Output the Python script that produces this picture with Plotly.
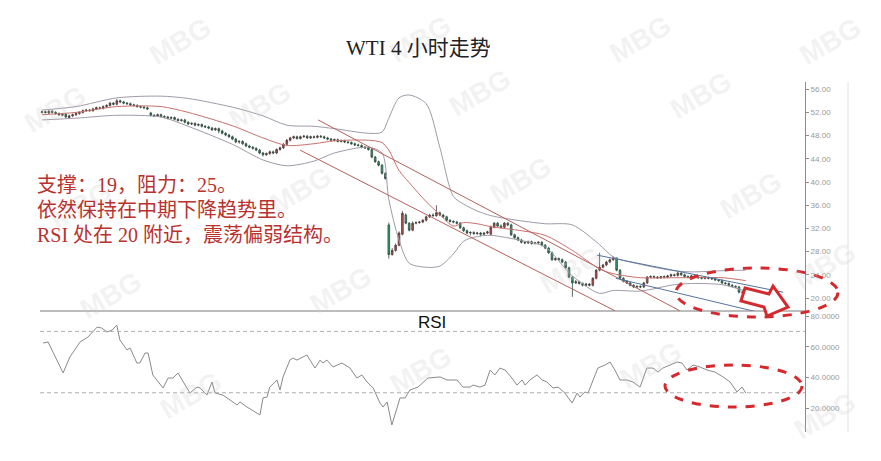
import plotly.graph_objects as go

# ---------------- price candles (4h bars, index 0..207) ----------------
open_px = [
    52.0, 52.1, 51.9, 52.2, 52.0, 51.8, 51.5, 51.7, 51.1, 51.4,
    51.6, 51.8, 52.0, 52.3, 52.4, 52.3, 52.6, 52.8, 52.7, 53.0,
    53.2, 53.6, 53.4, 54.0, 53.8, 53.6, 53.5, 53.3, 53.2, 53.0,
    52.9, 52.8, 51.9, 51.5, 51.4, 51.6, 51.3, 51.2, 51.0, 51.1,
    50.8, 50.6, 50.7, 50.3, 50.0, 50.1, 49.8, 49.9, 49.6, 49.5,
    49.3, 49.0, 49.2, 48.8, 48.4, 48.1, 47.8, 47.4, 46.9, 47.0,
    46.6, 46.2, 46.0, 45.8, 45.5, 45.0, 44.7, 44.9, 45.2, 45.0,
    45.6, 45.9, 46.5, 47.2, 47.6, 47.8, 47.5, 47.8, 47.9, 47.6,
    47.8, 47.7, 47.9, 47.8, 47.6, 47.4, 47.2, 47.3, 47.0, 47.1,
    46.9, 46.8, 46.6, 46.4, 46.3, 46.0, 45.9, 45.6, 44.3, 43.5,
    42.9, 41.5,
    32.6, 27.5, 28.2, 29.1, 31.0, 34.3, 32.9, 31.7, 32.9, 33.0,
    33.1, 33.4, 34.0, 34.3, 34.2, 34.7, 34.3, 34.0, 33.4, 33.2,
    33.1, 32.9, 32.1, 31.6, 31.2, 31.3, 31.1, 31.2, 31.0, 31.2,
    31.0, 32.2, 32.9, 32.4, 32.2, 32.9, 32.6, 30.9, 30.4, 30.0,
    29.6, 29.5, 29.7, 29.4, 29.5, 29.6, 29.1, 28.6, 27.8, 26.6,
    26.8, 26.6, 26.2, 25.2, 23.6, 22.6, 22.8, 22.5, 22.2, 22.4,
    22.2, 23.4, 24.8, 25.3, 25.7, 26.2, 26.6, 26.9, 24.8, 23.4,
    22.9, 22.6, 22.2, 21.9, 22.0, 21.9, 22.6, 23.6, 23.7, 23.6,
    23.5, 23.7, 23.6, 23.8, 24.0, 23.9, 24.3, 24.0, 23.7, 23.6,
    23.8, 23.6, 23.5, 23.4, 23.5, 23.4, 23.3, 23.1, 23.0, 22.6,
    22.5, 22.2, 22.0, 21.9, 21.0, 21.0,
]
high_px = [
    52.3, 52.3, 52.4, 52.4, 52.2, 52.0, 51.9, 51.9, 51.6, 51.8,
    52.0, 52.2, 52.5, 52.6, 52.6, 52.8, 53.0, 53.0, 53.2, 53.4,
    53.8, 53.8, 54.3, 54.2, 54.0, 53.8, 53.7, 53.5, 53.4, 53.2,
    53.1, 53.0, 52.1, 51.7, 51.8, 51.8, 51.5, 51.4, 51.3, 51.3,
    51.0, 50.9, 50.9, 50.5, 50.3, 50.3, 50.1, 50.1, 49.8, 49.7,
    49.5, 49.4, 49.4, 49.0, 48.6, 48.3, 48.0, 47.6, 47.2, 47.2,
    46.8, 46.4, 46.2, 46.0, 45.7, 45.2, 45.1, 45.4, 45.4, 45.8,
    46.1, 46.7, 47.4, 47.8, 48.0, 48.0, 48.0, 48.1, 48.1, 48.0,
    48.0, 48.1, 48.1, 48.0, 47.8, 47.6, 47.5, 47.5, 47.3, 47.3,
    47.1, 47.0, 46.8, 46.6, 46.5, 46.2, 46.1, 45.8, 44.5, 43.7,
    43.1, 41.7,
    33.0, 28.6, 29.4, 31.5, 35.0, 34.6, 33.1, 33.2, 33.2, 33.3,
    33.6, 34.2, 34.5, 34.6, 36.0, 34.9, 34.5, 34.2, 33.6, 33.4,
    33.3, 33.1, 32.3, 31.8, 31.5, 31.5, 31.4, 31.4, 31.3, 31.6,
    32.5, 33.1, 33.1, 32.7, 33.1, 33.1, 32.8, 31.1, 30.6, 30.2,
    29.8, 29.9, 29.9, 29.7, 29.8, 29.8, 29.3, 28.8, 28.0, 27.0,
    27.0, 26.8, 26.4, 25.4, 23.8, 23.1, 23.0, 22.7, 22.6, 22.6,
    23.6, 25.0, 27.8, 25.9, 26.4, 26.8, 27.2, 27.0, 25.0, 23.6,
    23.1, 22.8, 22.4, 22.2, 22.2, 22.8, 23.8, 23.9, 23.9, 23.8,
    23.8, 23.9, 24.0, 24.2, 24.2, 24.5, 24.4, 24.2, 23.9, 24.0,
    24.0, 23.8, 23.7, 23.7, 23.7, 23.6, 23.5, 23.3, 23.2, 22.8,
    22.7, 22.4, 22.2, 22.1, 21.3, 21.6,
]
low_px = [
    51.8, 51.8, 51.7, 51.8, 51.6, 51.4, 51.3, 51.0, 50.9, 51.2,
    51.4, 51.6, 51.8, 52.1, 52.1, 52.1, 52.4, 52.5, 52.5, 52.8,
    53.0, 53.2, 53.2, 53.6, 53.4, 53.3, 53.1, 53.0, 52.8, 52.7,
    52.6, 52.4, 51.3, 51.2, 51.2, 51.1, 51.0, 50.8, 50.8, 50.6,
    50.4, 50.4, 50.1, 49.8, 49.8, 49.6, 49.6, 49.4, 49.3, 49.1,
    48.8, 48.8, 48.4, 48.2, 47.9, 47.6, 47.2, 46.7, 46.6, 46.4,
    46.0, 45.8, 45.6, 45.3, 44.8, 44.4, 44.5, 44.7, 44.8, 44.8,
    45.4, 45.7, 46.3, 47.0, 47.4, 47.3, 47.3, 47.6, 47.4, 47.4,
    47.5, 47.5, 47.6, 47.4, 47.2, 47.0, 47.0, 46.8, 46.8, 46.7,
    46.6, 46.4, 46.2, 46.1, 45.8, 45.7, 45.4, 44.1, 43.3, 42.7,
    41.3, 40.4,
    26.8, 27.3, 28.0, 28.9, 30.8, 32.7, 31.5, 31.5, 32.7, 32.8,
    32.9, 33.2, 33.8, 34.0, 34.0, 34.1, 33.8, 33.2, 33.0, 32.9,
    32.7, 31.9, 31.4, 31.0, 30.8, 30.9, 30.9, 30.6, 30.8, 31.0,
    30.8, 32.0, 32.2, 32.0, 32.0, 32.4, 30.7, 30.2, 29.8, 29.4,
    29.3, 29.3, 29.2, 29.2, 29.3, 28.9, 28.4, 27.6, 26.4, 26.4,
    26.4, 26.0, 25.0, 23.4, 20.2, 22.4, 22.3, 22.0, 22.0, 22.0,
    22.0, 23.2, 24.6, 25.1, 25.5, 26.0, 26.4, 24.6, 23.2, 22.7,
    22.4, 22.0, 21.7, 21.7, 21.7, 21.7, 22.4, 23.4, 23.4, 23.3,
    23.3, 23.4, 23.4, 23.6, 23.7, 23.7, 23.8, 23.5, 23.4, 23.4,
    23.4, 23.3, 23.2, 23.2, 23.2, 23.1, 23.0, 22.8, 22.4, 22.3,
    22.0, 21.8, 21.7, 20.8, 20.8, 20.9,
]
close_px = [
    52.1, 52.0, 52.2, 52.0, 51.8, 51.6, 51.7, 51.2, 51.4, 51.6,
    51.8, 52.0, 52.3, 52.4, 52.3, 52.6, 52.8, 52.7, 53.0, 53.2,
    53.6, 53.4, 54.0, 53.8, 53.6, 53.5, 53.3, 53.2, 53.0, 52.9,
    52.8, 52.6, 51.5, 51.4, 51.6, 51.3, 51.2, 51.0, 51.1, 50.8,
    50.6, 50.7, 50.3, 50.0, 50.1, 49.8, 49.9, 49.6, 49.5, 49.3,
    49.0, 49.2, 48.8, 48.4, 48.1, 47.8, 47.4, 46.9, 47.0, 46.6,
    46.2, 46.0, 45.8, 45.5, 45.0, 44.7, 44.9, 45.2, 45.0, 45.6,
    45.9, 46.5, 47.2, 47.6, 47.8, 47.5, 47.8, 47.9, 47.6, 47.8,
    47.7, 47.9, 47.8, 47.6, 47.4, 47.2, 47.3, 47.0, 47.1, 46.9,
    46.8, 46.6, 46.4, 46.3, 46.0, 45.9, 45.6, 44.3, 43.5, 42.9,
    41.5, 40.6,
    27.5, 28.2, 29.1, 31.2, 34.6, 32.9, 31.7, 32.9, 33.0, 33.1,
    33.4, 34.0, 34.3, 34.2, 34.7, 34.3, 34.0, 33.4, 33.2, 33.1,
    32.9, 32.1, 31.6, 31.2, 31.3, 31.1, 31.2, 31.0, 31.2, 31.4,
    32.2, 32.9, 32.4, 32.2, 32.9, 32.6, 30.9, 30.4, 30.0, 29.6,
    29.5, 29.7, 29.4, 29.5, 29.6, 29.1, 28.6, 27.8, 26.6, 26.8,
    26.6, 26.2, 25.2, 23.6, 22.6, 22.8, 22.5, 22.2, 22.4, 22.2,
    23.4, 24.8, 25.3, 25.7, 26.2, 26.6, 26.9, 24.8, 23.4, 22.9,
    22.6, 22.2, 21.9, 22.0, 21.9, 22.6, 23.6, 23.7, 23.6, 23.5,
    23.7, 23.6, 23.8, 24.0, 23.9, 24.3, 24.0, 23.7, 23.6, 23.8,
    23.6, 23.5, 23.4, 23.5, 23.4, 23.3, 23.1, 23.0, 22.6, 22.5,
    22.2, 22.0, 21.9, 21.0, 21.0, 21.4,
]
bar_index = list(range(len(close_px)))

# ---------------- Bollinger band vertices (bar index, price) ----------------
bb_x = [0, 10, 22, 35, 43, 56, 65, 72, 80, 86, 96, 100, 102, 105, 108, 113,
        117, 121, 124, 128, 132, 141, 148, 156, 164, 168, 176, 186, 191, 200, 207]
bb_upper = [52.4, 53.0, 54.5, 54.8, 54.4, 52.9, 51.4, 49.8, 49.6, 49.2, 48.4,
            48.6, 51.0, 54.5, 55.0, 53.5, 46.0, 37.5, 36.2, 35.0, 34.2, 33.3,
            32.8, 32.6, 29.2, 27.1, 25.8, 24.7, 24.5, 24.7, 24.8]
bb_mid = [51.6, 52.0, 53.0, 53.0, 52.0, 49.7, 47.6, 46.3, 46.6, 47.1, 47.2,
          46.8, 45.5, 42.0, 39.9, 36.6, 34.4, 32.4, 33.0, 32.8, 32.3, 31.6,
          30.8, 28.2, 25.0, 24.2, 23.5, 23.5, 23.5, 23.5, 23.0]
bb_lower = [50.7, 51.0, 51.5, 51.2, 49.6, 46.5, 43.8, 42.8, 43.6, 45.0, 46.0,
            45.0, 37.0, 30.0, 26.0, 25.3, 25.5, 27.6, 29.8, 30.6, 30.8, 29.9,
            28.8, 23.8, 20.8, 21.3, 21.2, 22.3, 22.5, 22.3, 21.2]

# ---------------- trend-channel lines (bar index, price) ----------------
chan_upper_x = [81.2, 187.6]
chan_upper_y = [50.7, 17.8]
chan_lower_x = [75.9, 168.5]
chan_lower_y = [45.5, 17.8]
blue_upper_x = [163.2, 218.0]
blue_upper_y = [27.4, 21.0]
blue_lower_x = [168.8, 210.3]
blue_lower_y = [23.4, 17.6]

# ---------------- RSI vertices (bar index, value) ----------------
rsi_x = [0.3, 1.8, 6.2, 8.2, 11.2, 13.5, 16.2, 17.6, 19.1, 20.6, 22.0, 22.9,
         25.0, 25.9, 27.9, 28.8, 30.3, 31.2, 32.6, 35.6, 37.1, 38.5, 40.0, 43.5,
         45.6, 46.5, 48.5, 50.0, 50.9, 53.2, 57.4, 58.2, 60.3, 64.1, 65.0, 66.2,
         67.0, 69.1, 70.0, 70.9, 72.9, 73.8, 75.0, 77.9, 80.3, 81.8, 82.6, 83.8,
         85.6, 88.2, 90.6, 92.6, 94.1, 95.6, 97.4, 99.4, 100.3, 101.5, 102.9,
         104.4, 105.3, 106.8, 108.2, 110.6, 113.5, 117.1, 119.1, 122.1, 123.8,
         125.9, 126.8, 128.8, 130.3, 131.8, 133.2, 134.7, 136.2, 138.2, 139.7,
         141.2, 142.1, 143.5, 145.6, 147.1, 148.5, 150.3, 151.8, 153.8, 155.9,
         157.4, 158.2, 159.7, 160.6, 162.1, 163.5, 165.6, 167.1, 168.5, 170.0,
         172.1, 173.8, 175.9, 177.9, 179.7, 181.2, 182.6, 184.7, 186.8, 188.2,
         189.7, 191.5, 193.5, 195.6, 197.9, 200.3, 202.4, 204.4, 205.9, 207.0]
rsi_v = [62.4, 63.1, 42.9, 53.3, 63.1, 66.3, 72.8, 72.2, 69.6, 70.9, 74.1, 64.4,
         57.9, 59.2, 49.4, 49.4, 55.9, 55.9, 41.6, 33.1, 39.6, 39.6, 42.9, 29.8,
         33.7, 33.1, 28.5, 37.0, 29.8, 28.5, 22.0, 24.0, 20.7, 15.5, 26.6, 27.2,
         33.7, 38.3, 31.8, 40.3, 51.3, 52.6, 51.3, 54.6, 46.1, 51.3, 49.4, 51.3,
         46.8, 49.4, 46.1, 39.6, 41.6, 37.0, 33.1, 23.3, 20.7, 24.0, 9.0,
         20.7, 26.6, 26.6, 31.8, 33.7, 39.6, 40.3, 38.3, 38.3, 33.7,
         33.7, 35.0, 33.7, 35.0, 44.8, 41.6, 46.1, 44.8, 39.6, 35.0,
         38.3, 35.0, 38.3, 41.6, 38.3, 37.0, 33.1, 33.7, 29.8, 23.3,
         29.8, 27.2, 30.5, 29.8, 38.3, 46.1, 48.1, 50.0, 44.8, 38.3,
         38.3, 37.0, 33.7, 46.1, 46.1, 43.5, 46.1, 48.1, 50.0, 49.4,
         44.8, 48.1, 46.8, 44.8, 43.5, 40.3, 37.0, 30.5, 33.7, 29.8]
rsi_levels = [70, 30]

price_ticks = [20, 24, 28, 32, 36, 40, 44, 48, 52, 56]
rsi_ticks = [20, 40, 60, 80]

# ---------------- page geometry (reference pixels; page body has an 8px margin) ----------------
OFF = 8
W, H = 881 - OFF, 461 - OFF
L, R, T, B = 40, 805, 82, 432          # plot area in reference pixels


def px(x, y):
    return (x - L) / (R - L), (B - y) / (B - T)


split = (B - 311) / (B - T)

fig = go.Figure()

fig.add_trace(go.Candlestick(
    x=bar_index, open=open_px, high=high_px, low=low_px, close=close_px,
    increasing=dict(fillcolor="#c0504d", line=dict(color="#4a3a3a", width=0.8)),
    decreasing=dict(fillcolor="#34a36e", line=dict(color="#2f4a3f", width=0.8)),
    whiskerwidth=0, showlegend=False, hoverinfo="skip",
    xaxis="x", yaxis="y"))

for yy, col, wd in [(bb_upper, "#a09aa8", 1), (bb_lower, "#a09aa8", 1), (bb_mid, "#c8706c", 1)]:
    fig.add_trace(go.Scatter(x=bb_x, y=yy, mode="lines",
                             line=dict(color=col, width=wd, shape="spline", smoothing=0.8),
                             showlegend=False, hoverinfo="skip", xaxis="x", yaxis="y"))

for xx, yy, col in [(chan_upper_x, chan_upper_y, "#b4605c"), (chan_lower_x, chan_lower_y, "#b4605c"),
                    (blue_upper_x, blue_upper_y, "#5573a0"), (blue_lower_x, blue_lower_y, "#5573a0")]:
    fig.add_trace(go.Scatter(x=xx, y=yy, mode="lines", line=dict(color=col, width=1),
                             showlegend=False, hoverinfo="skip", xaxis="x", yaxis="y"))

fig.add_trace(go.Scatter(x=rsi_x, y=rsi_v, mode="lines", line=dict(color="#8a8a8a", width=1),
                         showlegend=False, hoverinfo="skip", xaxis="x2", yaxis="y2"))

x_range = [(L - 42) / 3.4, (R - 42) / 3.4]
axis_font = dict(family="Arial", size=8, color="#9a9a9a")

fig.update_layout(
    width=W, height=H, margin=dict(l=L - OFF, r=881 - R, t=T - OFF, b=461 - B),
    paper_bgcolor="white", plot_bgcolor="white",
    xaxis=dict(domain=[0, 1], range=x_range, visible=False, rangeslider=dict(visible=False), anchor="y"),
    xaxis2=dict(domain=[0, 1], range=x_range, visible=False, anchor="y2", matches="x"),
    yaxis=dict(domain=[split, 1], range=[17.76, 57.24], side="right", anchor="x",
               tickvals=price_ticks, ticktext=["%.2f" % v for v in price_ticks],
               showgrid=False, zeroline=False, showline=True, linecolor="#8c8c8c", linewidth=1,
               ticks="outside", ticklen=3, tickcolor="#8c8c8c", tickfont=axis_font),
    yaxis2=dict(domain=[0, split], range=[4.4, 83.3], side="right", anchor="x2",
                tickvals=rsi_ticks, ticktext=["%.4f" % v for v in rsi_ticks],
                showgrid=False, zeroline=False, showline=True, linecolor="#8c8c8c", linewidth=1,
                ticks="outside", ticklen=3, tickcolor="#8c8c8c", tickfont=axis_font),
    showlegend=False,
)

shapes = []
shapes.append(dict(type="line", xref="paper", yref="paper", x0=0, x1=1, y0=split, y1=split,
                   line=dict(color="#7a7a7a", width=1)))
bx, _ = px(848, 0)
shapes.append(dict(type="line", xref="paper", yref="paper", x0=bx, x1=bx, y0=0, y1=1,
                   line=dict(color="#e2e2e2", width=1)))
for lv in rsi_levels:
    shapes.append(dict(type="line", xref="paper", yref="y2", x0=0, x1=1, y0=lv, y1=lv,
                       line=dict(color="#b0b0b0", width=1, dash="4px,3px")))
for (x0, y0, x1, y1) in [(676, 268, 838, 317), (665, 365, 802, 407)]:
    a, b = px(x0, y1)
    c, d = px(x1, y0)
    shapes.append(dict(type="circle", xref="paper", yref="paper", x0=a, y0=b, x1=c, y1=d,
                       line=dict(color="#d42a2e", width=3, dash="dash")))
arrow_pts = [(745, 288), (769, 294), (773, 286), (788, 307), (767, 316), (764, 307), (741, 301)]
path = "M " + " L ".join("%.4f,%.4f" % px(x, y) for x, y in arrow_pts) + " Z"
shapes.append(dict(type="path", xref="paper", yref="paper", path=path,
                   fillcolor="white", line=dict(color="#d42a2e", width=3)))
fig.update_layout(shapes=shapes)

ann = []
wm = [(180, 42), (420, 40), (640, 40), (830, 42), (55, 110), (260, 105), (480, 92), (700, 95),
      (80, 205), (300, 190), (520, 180), (750, 195), (110, 295), (340, 290), (570, 270), (825, 265),
      (190, 395), (420, 370), (650, 365), (825, 415)]
for x, y in wm:
    xx, yy = px(x, y)
    ann.append(dict(xref="paper", yref="paper", x=xx, y=yy, text="<b>MBG</b>", showarrow=False,
                    xanchor="center", yanchor="middle", textangle=-30,
                    font=dict(family="Arial Black, Arial", size=28, color="rgba(200,200,200,0.22)")))
tx, ty = px(418, 48)
ann.append(dict(xref="paper", yref="paper", x=tx, y=ty, text="WTI 4 小时走势", showarrow=False,
                xanchor="center", yanchor="middle",
                font=dict(family="Liberation Serif, Noto Sans CJK SC", size=21, color="#222222")))
rx, ry = px(432, 322)
ann.append(dict(xref="paper", yref="paper", x=rx, y=ry, text="RSI", showarrow=False,
                xanchor="center", yanchor="middle",
                font=dict(family="Arial", size=17, color="#111111")))
notes = ["支撑：19，阻力：25。", "依然保持在中期下降趋势里。", "RSI 处在 20 附近，震荡偏弱结构。"]
for k, line in enumerate(notes):
    nx, ny = px(35, 185 + 25 * k)
    ann.append(dict(xref="paper", yref="paper", x=nx, y=ny, text=line, showarrow=False,
                    xanchor="left", yanchor="middle",
                    font=dict(family="Liberation Serif, Noto Sans CJK SC", size=20, color="#b8322f")))
fig.update_layout(annotations=ann)

fig.write_html("out.html")
